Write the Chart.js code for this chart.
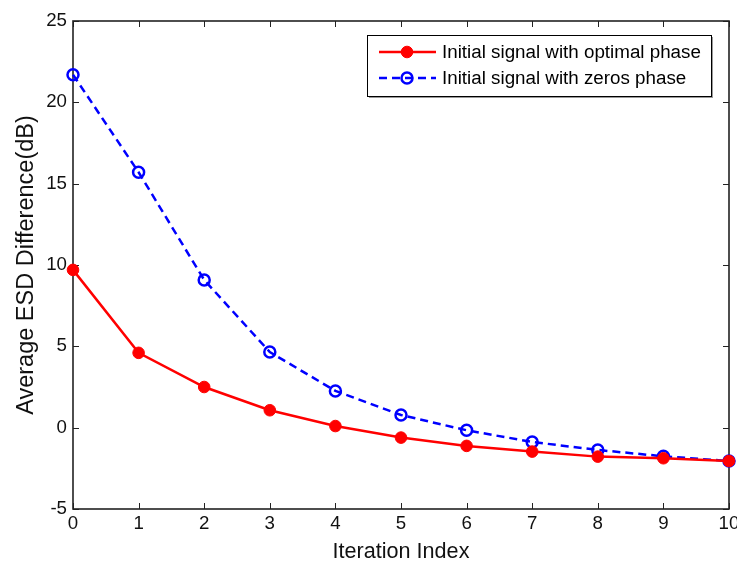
<!DOCTYPE html>
<html>
<head>
<meta charset="utf-8">
<script src="https://cdn.jsdelivr.net/npm/chart.js@4.4.0/dist/chart.umd.min.js"></script>
<style>
  html, body { margin: 0; padding: 0; background: #fff; }
  #chart { display: block; }
</style>
</head>
<body>
<canvas id="chart" width="737" height="561"></canvas>
<script>
// values
const iterations = [0, 1, 2, 3, 4, 5, 6, 7, 8, 9, 10];
const optimalPhase = [9.7, 4.6, 2.5, 1.07, 0.1, -0.61, -1.12, -1.47, -1.78, -1.88, -2.05];
const zerosPhase = [21.7, 15.7, 9.08, 4.65, 2.26, 0.78, -0.16, -0.88, -1.37, -1.76, -2.05];
const seriesNames = ["Initial signal with optimal phase", "Initial signal with zeros phase"];
const xTicks = [0, 1, 2, 3, 4, 5, 6, 7, 8, 9, 10];
const yTicks = [-5, 0, 5, 10, 15, 20, 25];

const FONT = "'Liberation Sans', Arial, sans-serif";

function toPoints(ys) {
  return iterations.map((x, i) => ({ x: x, y: ys[i] }));
}

// box around the plot with inward ticks (matlab style)
const framePlugin = {
  id: "frame",
  beforeDatasetsDraw(chart) {
    const { ctx, chartArea: a, scales } = chart;
    ctx.save();
    ctx.strokeStyle = "#222";
    ctx.lineWidth = 1;
    ctx.beginPath();
    xTicks.forEach(t => {
      const px = Math.round(scales.x.getPixelForValue(t)) + 0.5;
      ctx.moveTo(px, a.bottom); ctx.lineTo(px, a.bottom - 6);
      ctx.moveTo(px, a.top); ctx.lineTo(px, a.top + 6);
    });
    yTicks.forEach(t => {
      const py = Math.round(scales.y.getPixelForValue(t)) + 0.5;
      ctx.moveTo(a.left, py); ctx.lineTo(a.left + 6, py);
      ctx.moveTo(a.right, py); ctx.lineTo(a.right - 6, py);
    });
    ctx.stroke();
    ctx.lineWidth = 1.6;
    ctx.strokeRect(a.left, a.top, a.right - a.left, a.bottom - a.top);
    ctx.restore();
  },
  afterDraw(chart) {
    // legend box in the top right corner
    const { ctx, chartArea: a } = chart;
    const w = 344, h = 61;
    const bx = a.right - 18 - w, by = a.top + 14;
    ctx.save();
    ctx.fillStyle = "#999";
    ctx.fillRect(bx + 2, by + 2, w, h);
    ctx.fillStyle = "#fff";
    ctx.fillRect(bx, by, w, h);
    ctx.strokeStyle = "#000";
    ctx.lineWidth = 1;
    ctx.strokeRect(bx + 0.5, by + 0.5, w, h);
    ctx.font = "18.8px " + FONT;
    ctx.textBaseline = "middle";
    chart.data.datasets.forEach((ds, i) => {
      const cy = by + 17 + i * 26;
      ctx.strokeStyle = ds.borderColor;
      ctx.lineWidth = ds.borderWidth;
      ctx.setLineDash(ds.borderDash || []);
      ctx.beginPath();
      ctx.moveTo(bx + 12, cy); ctx.lineTo(bx + 69, cy);
      ctx.stroke();
      ctx.setLineDash([]);
      ctx.beginPath();
      ctx.arc(bx + 40, cy, ds.pointRadius, 0, Math.PI * 2);
      ctx.fillStyle = ds.pointBackgroundColor;
      ctx.fill();
      ctx.lineWidth = ds.pointBorderWidth;
      ctx.strokeStyle = ds.pointBorderColor;
      ctx.stroke();
      ctx.fillStyle = "#000";
      ctx.fillText(ds.label, bx + 75, cy + 1);
    });
    ctx.restore();
  }
};

new Chart(document.getElementById("chart"), {
  type: "line",
  data: {
    datasets: [
      {
        label: seriesNames[0],
        data: toPoints(optimalPhase),
        borderColor: "#ff0000",
        borderWidth: 2.5,
        pointRadius: 5.8,
        pointBackgroundColor: "#ff0000",
        pointBorderColor: "#ff0000",
        pointBorderWidth: 1,
        tension: 0,
        clip: false
      },
      {
        label: seriesNames[1],
        data: toPoints(zerosPhase),
        borderColor: "#0000ff",
        borderWidth: 2.5,
        borderDash: [8, 5],
        pointRadius: 5.5,
        pointBackgroundColor: "rgba(255,255,255,0)",
        pointBorderColor: "#0000ff",
        pointBorderWidth: 2.5,
        tension: 0,
        clip: false
      }
    ]
  },
  options: {
    responsive: false,
    animation: false,
    devicePixelRatio: 1,
    layout: { padding: { top: 21, right: 7, left: 0, bottom: 0 } },
    plugins: { legend: { display: false }, tooltip: { enabled: false } },
    scales: {
      x: {
        type: "linear",
        min: 0,
        max: 10,
        afterFit(s) { s.height = 52; s.paddingLeft = 0; s.paddingRight = 0; },
        afterBuildTicks(s) { s.ticks = xTicks.map(v => ({ value: v })); },
        ticks: { color: "#111", font: { family: FONT, size: 18.7, lineHeight: 1 }, padding: 6, maxRotation: 0, autoSkip: false },
        grid: { display: false, drawTicks: false },
        border: { display: false },
        title: { display: true, text: "Iteration Index", color: "#111", font: { family: FONT, size: 21.6, lineHeight: 0.85 }, padding: { top: 0, bottom: 0 } }
      },
      y: {
        type: "linear",
        min: -5,
        max: 25,
        afterFit(s) { s.width = 73; s.paddingTop = 0; s.paddingBottom = 0; },
        afterBuildTicks(s) { s.ticks = yTicks.map(v => ({ value: v })); },
        ticks: { color: "#111", font: { family: FONT, size: 18.7 }, padding: 6 },
        grid: { display: false, drawTicks: false },
        border: { display: false },
        title: { display: true, text: "Average ESD Difference(dB)", color: "#111", font: { family: FONT, size: 23.5, lineHeight: 1 }, padding: { top: 15, bottom: 0 } }
      }
    }
  },
  plugins: [framePlugin]
});
</script>
</body>
</html>
